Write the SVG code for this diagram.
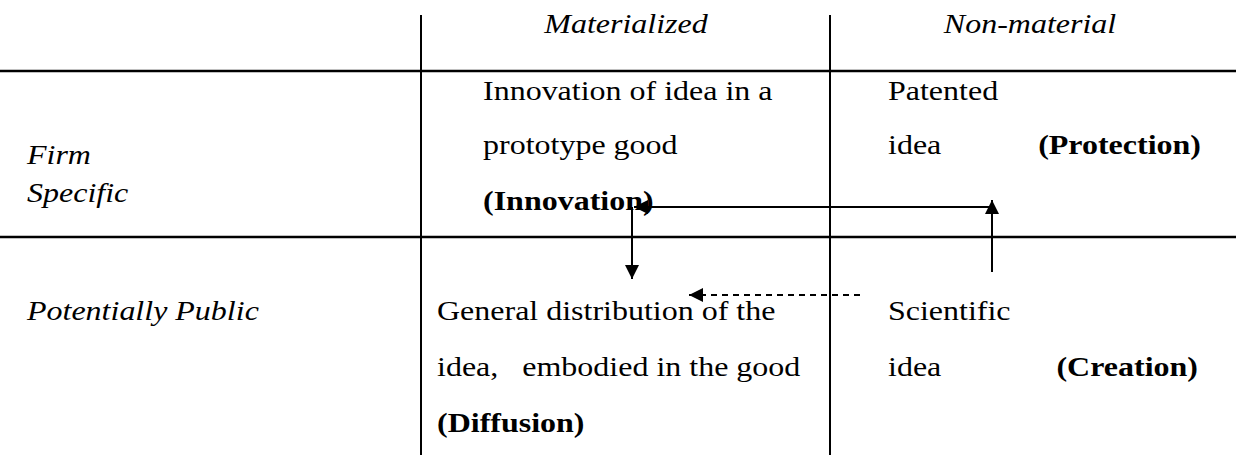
<svg xmlns="http://www.w3.org/2000/svg" width="1236" height="455" viewBox="0 0 1236 455">
  <style>
    text { font-family: 'Liberation Serif', 'Times New Roman', serif; font-size: 27px; fill: #000; }
    .it { font-style: italic; }
    .b { font-weight: bold; }
    .mid { text-anchor: middle; }
    .end { text-anchor: end; }
    .rule { stroke: #000; stroke-width: 2.5; fill: none; }
    .vrule { stroke: #000; stroke-width: 2; fill: none; }
    .conn { stroke: #000; stroke-width: 2; fill: none; }
    .dash { stroke-dasharray: 6 5; }
  </style>
  <defs>
    <marker id="head" viewBox="0 0 10 10" refX="10" refY="5" markerWidth="14" markerHeight="14" markerUnits="userSpaceOnUse" orient="auto">
      <path d="M0,0 L10,5 L0,10 Z" fill="#000"/>
    </marker>
  </defs>

  <!-- table rules -->
  <g id="grid">
    <line class="rule" x1="0" y1="71" x2="1236" y2="71"/>
    <line class="rule" x1="0" y1="237" x2="1236" y2="237"/>
    <line class="vrule" x1="421" y1="15" x2="421" y2="455"/>
    <line class="vrule" x1="830" y1="15" x2="830" y2="455"/>
  </g>

  <!-- column headings (glyphs widened 1.185x) -->
  <g id="col-materialized"><text class="it mid" transform="translate(626,33) scale(1.185,1)">Materialized</text></g>
  <g id="col-nonmaterial"><text class="it mid" transform="translate(1030,33) scale(1.185,1)">Non-material</text></g>

  <!-- row headings -->
  <g id="row-firm">
    <text class="it" transform="translate(27,164) scale(1.185,1)">Firm</text>
    <text class="it" transform="translate(27,202) scale(1.185,1)">Specific</text>
  </g>
  <g id="row-public"><text class="it" transform="translate(27,320) scale(1.185,1)">Potentially Public</text></g>

  <!-- cells -->
  <g id="innovation">
    <text transform="translate(483,100) scale(1.185,1)">Innovation of idea in a</text>
    <text transform="translate(483,154) scale(1.185,1)">prototype good</text>
    <text class="b" transform="translate(483,210) scale(1.185,1)">(Innovation)</text>
  </g>
  <g id="protection">
    <text transform="translate(888,100) scale(1.185,1)">Patented</text>
    <text transform="translate(888,154) scale(1.185,1)">idea</text>
    <text class="b end" transform="translate(1201,154) scale(1.185,1)">(Protection)</text>
  </g>
  <g id="diffusion">
    <text transform="translate(437,320) scale(1.185,1)">General distribution of the</text>
    <text transform="translate(437,376) scale(1.185,1)" xml:space="preserve">idea,   embodied in the good</text>
    <text class="b" transform="translate(437,432) scale(1.185,1)">(Diffusion)</text>
  </g>
  <g id="creation">
    <text transform="translate(888,320) scale(1.185,1)">Scientific</text>
    <text transform="translate(888,376) scale(1.185,1)">idea</text>
    <text class="b end" transform="translate(1198,376) scale(1.185,1)">(Creation)</text>
  </g>

  <!-- connectors -->
  <g id="connectors">
    <line class="conn" x1="992" y1="272" x2="992" y2="200" marker-end="url(#head)"/>
    <line class="conn" x1="992" y1="207" x2="634" y2="207" marker-end="url(#head)"/>
    <line class="conn" x1="632" y1="207" x2="632" y2="279" marker-end="url(#head)"/>
    <line class="conn dash" x1="860" y1="295" x2="689" y2="295" marker-end="url(#head)"/>
  </g>
</svg>
